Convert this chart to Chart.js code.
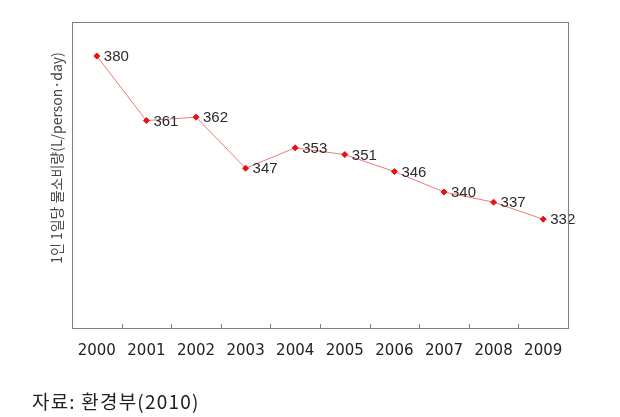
<!DOCTYPE html>
<html>
<head>
<meta charset="utf-8">
<script src="https://cdn.jsdelivr.net/npm/chart.js@4"></script>
<style>
  html, body { margin: 0; padding: 0; background: #fff; }
  #wrap { position: relative; width: 620px; height: 417px; }
  #source {
    position: absolute; left: 32px; top: 391px;
    font: 19px "Noto Sans CJK KR", sans-serif; color: #222; line-height: 1;
    letter-spacing: 1.2px;
  }
</style>
</head>
<body>
<div id="wrap">
  <canvas id="c" width="620" height="417"></canvas>
  <div id="source">자료: 환경부(2010)</div>
</div>
<script>
'use strict';

const years = ['2000', '2001', '2002', '2003', '2004', '2005', '2006', '2007', '2008', '2009'];
const usage = [380, 361, 362, 347, 353, 351, 346, 340, 337, 332];
const yTitle = '1인 1일당 물소비량(L/person·day)';

// 박스 테두리 + 안쪽 눈금 + y축 제목
const framePlugin = {
  id: 'frame',
  afterDraw(chart) {
    const { ctx, chartArea: a, scales } = chart;
    const x = scales.x;
    ctx.save();
    ctx.strokeStyle = '#808080';
    ctx.lineWidth = 1;
    ctx.strokeRect(Math.round(a.left) + 0.5, Math.round(a.top) + 0.5,
      Math.round(a.right - a.left), Math.round(a.bottom - a.top));
    ctx.beginPath();
    for (let i = 1; i < years.length; i++) {
      const px = Math.round((x.getPixelForValue(i - 1) + x.getPixelForValue(i)) / 2) + 0.5;
      ctx.moveTo(px, a.bottom);
      ctx.lineTo(px, a.bottom - 4);
    }
    ctx.stroke();

    ctx.translate(57, 158);
    ctx.rotate(-Math.PI / 2);
    ctx.fillStyle = '#444';
    ctx.font = '14px "Noto Sans CJK KR", sans-serif';
    ctx.textAlign = 'center';
    ctx.textBaseline = 'middle';
    ctx.fillText(yTitle, 0, 0);
    ctx.restore();
  },
};

// 값 라벨
const labelPlugin = {
  id: 'valueLabels',
  afterDatasetsDraw(chart) {
    const { ctx } = chart;
    const meta = chart.getDatasetMeta(0);
    ctx.save();
    ctx.fillStyle = '#2a2a2a';
    ctx.font = '15px "Liberation Sans", Arial, sans-serif';
    ctx.textAlign = 'left';
    ctx.textBaseline = 'middle';
    meta.data.forEach((pt, i) => {
      ctx.fillText(String(usage[i]), pt.x + 7, pt.y + 1);
    });
    ctx.restore();
  },
};

new Chart(document.getElementById('c'), {
  type: 'line',
  data: {
    labels: years,
    datasets: [{
      data: usage,
      borderColor: '#f07878',
      borderWidth: 1,
      pointStyle: 'rectRot',
      pointRadius: 3,
      pointBackgroundColor: '#e81010',
      pointBorderColor: '#e81010',
      tension: 0,
    }],
  },
  options: {
    responsive: false,
    animation: false,
    layout: { padding: { left: 0, right: 52, top: 22, bottom: 49 } },
    plugins: { legend: { display: false }, tooltip: { enabled: false } },
    scales: {
      x: {
        offset: true,
        grid: { display: false },
        border: { display: false },
        ticks: {
          color: '#222',
          font: { family: 'DejaVu Sans', size: 15 },
          padding: 6,
          maxRotation: 0,
        },
        afterFit: (s) => { s.height = 40; },
      },
      y: {
        min: 300,
        max: 390,
        grid: { display: false },
        border: { display: false },
        ticks: { display: false },
        afterFit: (s) => { s.width = 72; },
      },
    },
  },
  plugins: [framePlugin, labelPlugin],
});
</script>
</body>
</html>
